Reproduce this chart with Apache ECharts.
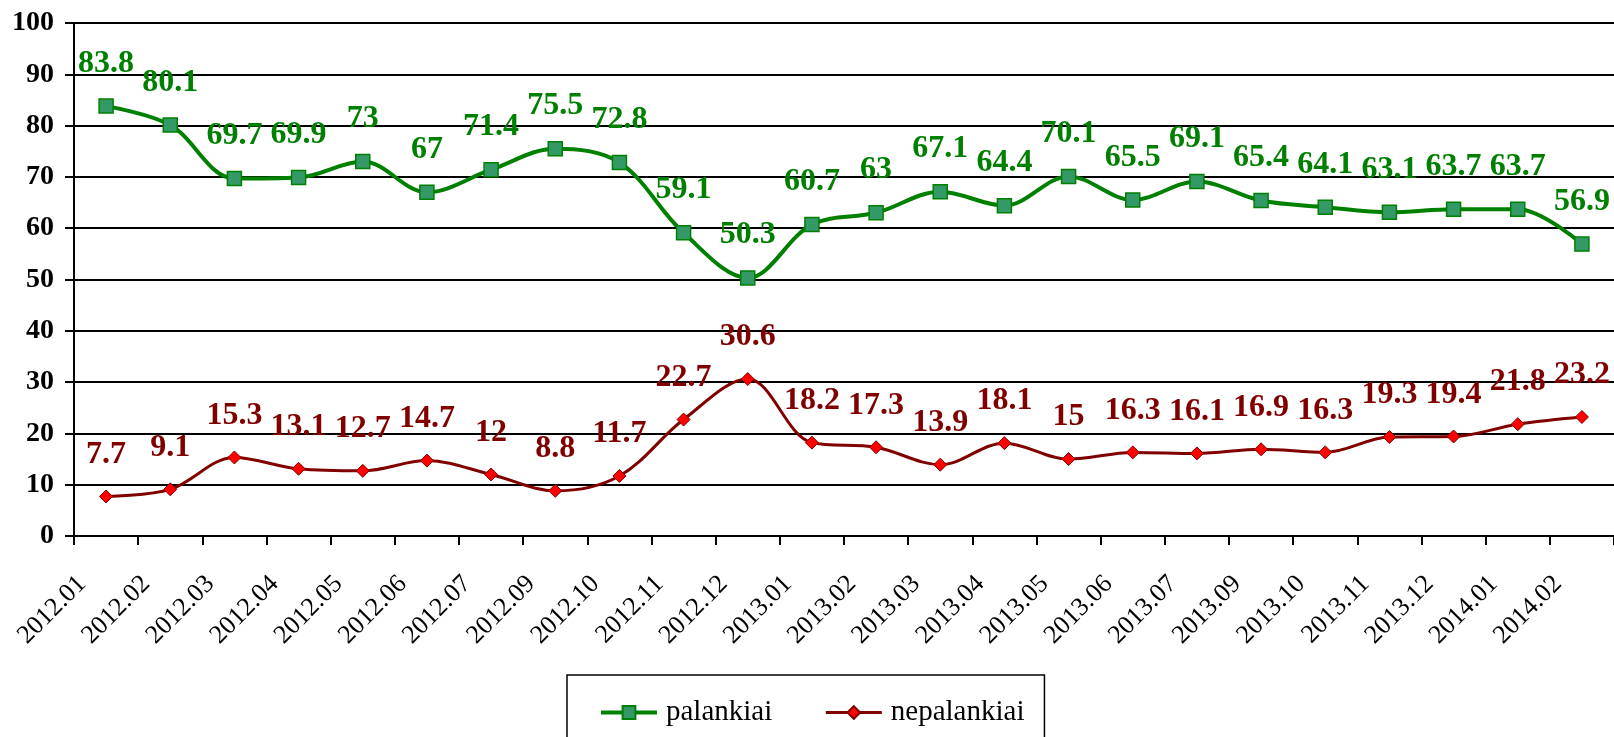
<!DOCTYPE html>
<html>
<head>
<meta charset="utf-8">
<script src="https://cdn.jsdelivr.net/npm/echarts@6/dist/echarts.min.js"></script>
<style>
  html, body { margin: 0; padding: 0; background: #fff; }
  #chart { width: 1614px; height: 737px; }
</style>
</head>
<body>
<div id="chart"></div>
<script>
const months = [
  '2012.01', '2012.02', '2012.03', '2012.04', '2012.05', '2012.06', '2012.07', '2012.09',
  '2012.10', '2012.11', '2012.12', '2013.01', '2013.02', '2013.03', '2013.04', '2013.05',
  '2013.06', '2013.07', '2013.09', '2013.10', '2013.11', '2013.12', '2014.01', '2014.02'
];
const palankiai = [
  83.8, 80.1, 69.7, 69.9, 73, 67, 71.4, 75.5, 72.8, 59.1, 50.3, 60.7,
  63, 67.1, 64.4, 70.1, 65.5, 69.1, 65.4, 64.1, 63.1, 63.7, 63.7, 56.9
];
const nepalankiai = [
  7.7, 9.1, 15.3, 13.1, 12.7, 14.7, 12, 8.8, 11.7, 22.7, 30.6, 18.2,
  17.3, 13.9, 18.1, 15, 16.3, 16.1, 16.9, 16.3, 19.3, 19.4, 21.8, 23.2
];

const font = '"Liberation Serif", "Times New Roman", serif';

const chart = echarts.init(document.getElementById('chart'));

chart.setOption({
  animation: false,
  backgroundColor: '#fff',
  grid: { left: 74, top: 23, width: 1543, height: 513 },
  xAxis: {
    type: 'category',
    data: months,
    boundaryGap: true,
    axisLine: { lineStyle: { color: '#000', width: 2 } },
    axisTick: { show: true, length: 9, lineStyle: { color: '#000', width: 2 } },
    axisLabel: {
      interval: 0,
      rotate: 45,
      margin: 20,
      padding: [0, 34, 0, 0],
      color: '#000',
      fontFamily: font,
      fontSize: 26
    }
  },
  yAxis: {
    type: 'value',
    min: 0,
    max: 100,
    interval: 10,
    axisLine: { show: true, lineStyle: { color: '#000', width: 2 } },
    axisTick: { show: true, length: 9, lineStyle: { color: '#000', width: 2 } },
    splitLine: { lineStyle: { color: '#000', width: 2 } },
    axisLabel: {
      margin: 20,
      color: '#000',
      fontFamily: font,
      fontSize: 28,
      fontWeight: 'bold'
    }
  },
  legend: {
    left: 567,
    top: 675,
    padding: [23, 20, 40, 32],
    borderColor: '#000',
    borderWidth: 1.5,
    itemWidth: 56,
    itemHeight: 16,
    itemGap: 52,
    textStyle: {
      color: '#000',
      fontFamily: font,
      fontSize: 29,
      padding: [0, 0, 0, 4]
    },
    data: [
      { name: 'palankiai', lineStyle: { width: 4 } },
      { name: 'nepalankiai', lineStyle: { width: 3 } }
    ]
  },
  series: [
    {
      name: 'palankiai',
      type: 'line',
      data: palankiai,
      smooth: 0.35,
      symbol: 'rect',
      symbolSize: 14,
      lineStyle: { color: '#008000', width: 4 },
      itemStyle: { color: '#339966', borderColor: '#008000', borderWidth: 1.5 },
      label: {
        show: true,
        position: 'top',
        distance: 19,
        color: '#008000',
        fontFamily: font,
        fontSize: 32,
        fontWeight: 'bold'
      }
    },
    {
      name: 'nepalankiai',
      type: 'line',
      data: nepalankiai,
      smooth: 0.35,
      symbol: 'diamond',
      symbolSize: 13,
      lineStyle: { color: '#800000', width: 3 },
      itemStyle: { color: '#ff0000', borderColor: '#800000', borderWidth: 1 },
      label: {
        show: true,
        position: 'top',
        distance: 19,
        color: '#800000',
        fontFamily: font,
        fontSize: 32,
        fontWeight: 'bold'
      }
    }
  ]
});
</script>
</body>
</html>
